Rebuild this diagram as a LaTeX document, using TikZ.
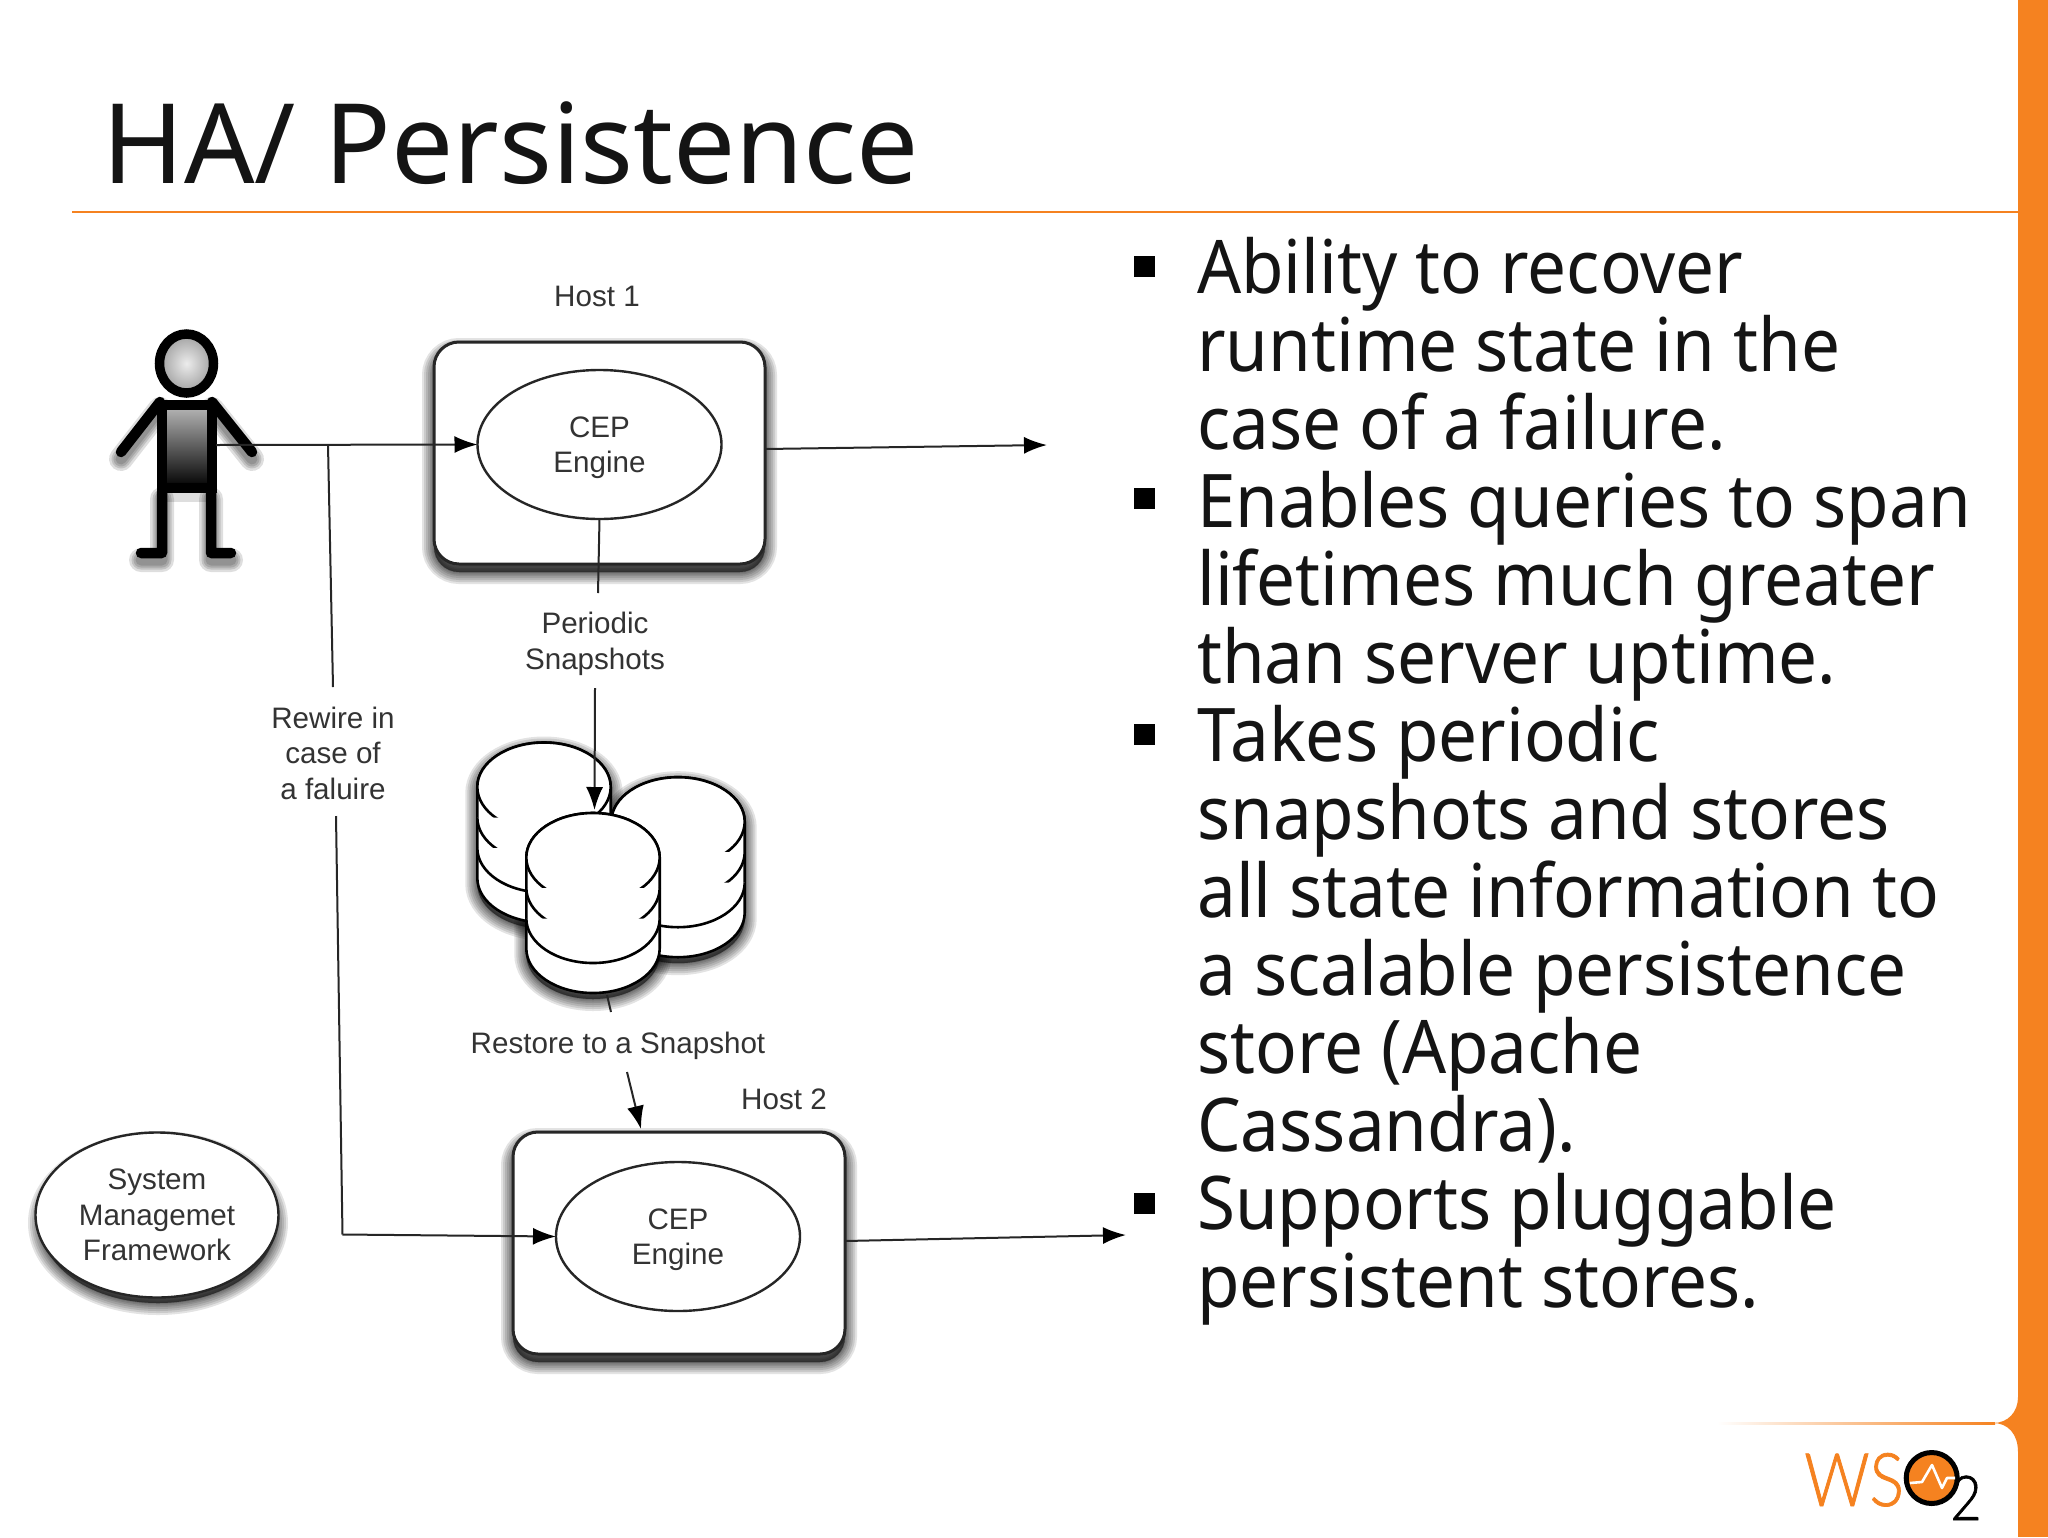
\documentclass[tikz,border=0pt]{standalone}
\usepackage{fontspec}
\setmainfont{Liberation Sans}
\newfontfamily\slidefont{Noto Sans}[FakeStretch=0.935]
\newfontfamily\titlefont{Noto Sans}[FakeStretch=0.995]
\newfontfamily\logofont{Lato Light}[FakeStretch=0.87,FakeBold=1]
\usetikzlibrary{shapes.geometric,arrows.meta}
\definecolor{wso}{HTML}{F58220}
\definecolor{ink}{HTML}{141414}
\definecolor{lab}{HTML}{333333}
\tikzset{
  conn/.style={draw=black!85,line width=2pt},
  arr/.style={conn,-{Latex[length=23pt,width=17pt,black]}},
  box/.style={draw=black!85,line width=3pt,fill=white,rounded corners=25pt,inner sep=0pt,outer sep=0pt},
  eng/.style={ellipse,draw=black!85,line width=2.4pt,fill=white,inner sep=0pt,outer sep=0pt,minimum width=244pt,minimum height=149pt},
  lbl/.style={text=lab,align=center,inner sep=0pt,font=\fontsize{29.6}{35.5}\selectfont},
  bullet/.style={anchor=north west,inner sep=0pt,align=left,text=ink,font=\slidefont\fontsize{74}{78}\selectfont},
  sq/.style={fill=black,minimum width=21pt,minimum height=21pt,inner sep=0pt},
  cyl/.style={draw=black,line width=2.6pt,fill=white,line join=round}
}
% blurred shadow: repeated translucent strokes of one path
\newcommand{\softshadow}[3]{%
  \begin{scope}[yshift=-#1pt,xshift=#2pt]
    \foreach \w in {24,20,16,12,8,5,2}{\path[draw=black,fill=black,opacity=.11,line width=\w pt] #3;}
  \end{scope}}
\newcommand{\cylpath}[2]{(#1-66.7,#2) -- (#1-66.7,#2+91) arc[start angle=180,end angle=360,x radius=66.7pt,y radius=44.5pt] -- (#1+66.7,#2) arc[start angle=0,end angle=180,x radius=66.7pt,y radius=44.5pt] -- cycle}
\newcommand{\drawcyl}[2]{%
  \draw[cyl] \cylpath{#1}{#2};
  \draw[cyl] (#1,#2) ellipse[x radius=66.7pt,y radius=44.5pt];
  \draw[cyl] (#1-66.7,#2+30.5) arc[start angle=180,end angle=360,x radius=66.7pt,y radius=44.5pt];
  \draw[cyl] (#1-66.7,#2+61) arc[start angle=180,end angle=360,x radius=66.7pt,y radius=44.5pt];}
\newcommand{\personlimbs}[1]{%
  \draw[black,line width=#1pt,line cap=round,line join=round]
    (160,402) -- (121,452) (212,402) -- (252,452)
    (162,492) -- (162,553) -- (141,553) (211,492) -- (211,553) -- (231,553);}
\begin{document}
\begin{tikzpicture}[x=1pt,y=-1pt]
\useasboundingbox (0,0) rectangle (2048,1537);
\fill[white] (0,0) rectangle (2048,1537);
% slide frame
\fill[wso] (2018,0) rectangle (2048,1537);
\fill[wso] (2018,1397) .. controls (2018,1412) and (2008,1423) .. (1993,1423) .. controls (2008,1423) and (2018,1434) .. (2018,1452) -- cycle;
\shade[left color=white,right color=wso] (1717,1422) rectangle (1995,1424);
\draw[wso,line width=1.5pt] (72,212) -- (2018,212);
% title
\node[anchor=base west,inner sep=0pt,text=ink,font=\titlefont\fontsize{111}{111}\selectfont] (title) at (102,183) {HA/ Persistence};
% bullets
\node[sq] (m1) at (1144.5,266) {};
\node[sq] (m2) at (1144.5,498) {};
\node[sq] (m3) at (1144.5,734) {};
\node[sq] (m4) at (1144.5,1203) {};
\node[bullet] (b1) at (1197,233) {\rule{0pt}{60pt}Ability to recover\\runtime state in the\\case of a failure.};
\node[bullet] (b2) at (1197,467) {\rule{0pt}{60pt}Enables queries to span\\lifetimes much greater\\than server uptime.};
\node[bullet] (b3) at (1197,701) {\rule{0pt}{60pt}Takes periodic\\snapshots and stores\\all state information to\\a scalable persistence\\store (Apache\\Cassandra).};
\node[bullet] (b4) at (1197,1169) {\rule{0pt}{60pt}Supports pluggable\\persistent stores.};
% person
\begin{scope}[opacity=.13,yshift=-7pt]
  \foreach \w in {24,19,15,11}{\personlimbs{\w}}
  \fill[black] (157,400) rectangle (216,495);
\end{scope}
\draw[black,line width=10pt,top color=gray!55,bottom color=black] (162,405) rectangle (211.5,488);
\personlimbs{10.5}
\draw[black,line width=9.5pt,inner color=gray!15,outer color=gray!75] (186.5,363.5) ellipse[x radius=27pt,y radius=29.5pt];
\coordinate (person) at (216,445);
% hosts
\softshadow{8}{0}{(434,342) [rounded corners=25pt] rectangle (765,564)}
\softshadow{8}{0}{(513,1132) [rounded corners=25pt] rectangle (845,1354)}
\node[box,minimum width=331pt,minimum height=222pt] (h1) at (599.5,453) {};
\node[box,minimum width=332pt,minimum height=222pt] (h2) at (679,1243) {};
\node[eng,lbl] (e1) at (599.5,444.5) {\rule{0pt}{27pt}CEP\\Engine};
\node[eng,lbl] (e2) at (678,1236.5) {\rule{0pt}{27pt}CEP\\Engine};
\node[lbl] (t1) at (597,296) {Host 1};
\node[lbl] (t2) at (784,1099) {Host 2};
% system management
\softshadow{8}{0}{(158,1215) ellipse[x radius=118pt,y radius=80pt]}
\node[ellipse,draw=black!85,line width=2.4pt,fill=white,inner sep=0pt,outer sep=0pt,minimum width=243pt,minimum height=165pt,lbl] (sm) at (157,1215) {System\\Managemet\\Framework};
% cylinders
\coordinate (ca) at (544,787);
\coordinate (cb) at (678,821.7);
\coordinate (cc) at (593,857.5);
\softshadow{6}{0}{\cylpath{544}{787}}
\softshadow{6}{0}{\cylpath{678}{821.7}}
\softshadow{6}{0}{\cylpath{593}{857.5}}
\drawcyl{544}{787}
\drawcyl{678}{821.7}
\drawcyl{593}{857.5}
% labels
\node[lbl] (lp) at (595,644) {Periodic\\Snapshots};
\node[lbl] (lr) at (333,753) {Rewire in\\case of\\a faluire};
\node[lbl] (ls) at (618,1045.5) {Restore to a Snapshot};
% connector ends
\coordinate (j) at (328,445);
\coordinate (r1) at (333,687);
\coordinate (r2) at (336,816);
\coordinate (r3) at (342.5,1234.5);
\coordinate (p1) at (598,593);
\coordinate (p2) at (595,688);
\coordinate (p3) at (594.5,810);
\coordinate (q1) at (607,995);
\coordinate (q2) at (611,1012);
\coordinate (q3) at (627,1072);
\coordinate (q4) at (641,1129);
\coordinate (o1) at (1047,445);
\coordinate (o2) at (1126,1235);
% connectors
\draw[arr] (person) -- (e1.west);
\draw[arr] (h1.east |- 0,449) -- (o1);
\draw[arr] (h2.east |- 0,1241) -- (o2);
\draw[conn] (j) -- (r1);
\draw[conn] (r2) -- (r3);
\draw[arr] (r3) -- (e2.west);
\draw[conn] (e1.south) -- (p1);
\draw[arr] (p2) -- (p3);
\draw[conn] (q1) -- (q2);
\draw[arr] (q3) -- (q4);
% logo
\node[anchor=base west,inner sep=0pt,text=wso,font=\logofont\fontsize{74}{74}\selectfont] (ws) at (1804,1506) {WS};
\node[circle,draw=black,line width=5pt,fill=wso,minimum size=51pt,inner sep=0pt] (o) at (1931.7,1478) {};
\draw[white,line width=2.6pt,line join=round] (1910,1483) -- (1922,1482) -- (1932,1465) -- (1942,1488) -- (1947,1478) -- (1955,1478);
\node[anchor=base,inner sep=0pt,text=black,font=\logofont\fontsize{62}{62}\selectfont] (two) at (1966,1520) {2};
\end{tikzpicture}
\end{document}
